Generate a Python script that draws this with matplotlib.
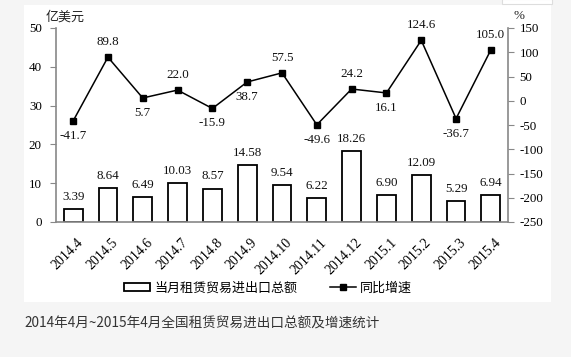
import matplotlib
matplotlib.use('Agg')
import matplotlib.pyplot as plt
from matplotlib.patches import Rectangle
from matplotlib.lines import Line2D
from matplotlib.transforms import ScaledTranslation

months = ['2014.4', '2014.5', '2014.6', '2014.7', '2014.8', '2014.9', '2014.10',
          '2014.11', '2014.12', '2015.1', '2015.2', '2015.3', '2015.4']
amount = [3.39, 8.64, 6.49, 10.03, 8.57, 14.58, 9.54, 6.22, 18.26, 6.90, 12.09, 5.29, 6.94]
growth = [-41.7, 89.8, 5.7, 22.0, -15.9, 38.7, 57.5, -49.6, 24.2, 16.1, 124.6, -36.7, 105.0]
growth_label_side = ['below', 'above', 'below', 'above', 'below', 'below', 'above',
                     'below', 'above', 'below', 'above', 'below', 'above']
left_ticks = [0, 10, 20, 30, 40, 50]
right_ticks = [-250, -200, -150, -100, -50, 0, 50, 100, 150]

SERIF = ['Liberation Serif', 'DejaVu Serif']
CJK = ['Noto Sans CJK SC', 'DejaVu Sans']
plt.rcParams['font.family'] = SERIF

fig = plt.figure(figsize=(5.71, 3.57), dpi=100, facecolor='#f5f5f5')
W, H = 571, 357
# white panel
fig.patches.append(Rectangle((24 / W, (H - 302) / H), (551 - 24) / W, (302 - 5) / H,
                             transform=fig.transFigure, facecolor='white', edgecolor='none', zorder=-10))
fig.patches.append(Rectangle((502 / W, (H - 3.5) / H), 50 / W, 5 / H,
                             transform=fig.transFigure, facecolor='white', edgecolor='#dddddd',
                             linewidth=0.8, zorder=-10))

NUM = 9.4
ax = fig.add_axes([55.7 / W, (H - 222) / H, (508.3 - 55.7) / W, (222 - 28) / H])
ax.set_facecolor('none')
x = list(range(len(months)))
ax.bar(x, amount, width=0.54, facecolor='white', edgecolor='black', linewidth=1.3, zorder=2)
ax.set_xlim(-0.5, len(months) - 0.5)
ax.set_ylim(0, 50)
ax.set_yticks(left_ticks)
ax.set_yticklabels([str(t) for t in left_ticks], fontsize=NUM)
for xi, v in zip(x, amount):
    ax.annotate(f'{v:.2f}', (xi, v), xytext=(0, 4.5), textcoords='offset points',
                ha='center', va='bottom', fontsize=NUM, color='#111111')
ax.set_xticks(x)
ax.set_xticklabels(months, rotation=45, ha='right', va='top', rotation_mode='anchor', fontsize=10)
ax.tick_params(axis='x', length=0, pad=10)
shift = ScaledTranslation(3.5 / 100, 0, fig.dpi_scale_trans)
for lab in ax.get_xticklabels():
    lab.set_transform(lab.get_transform() + shift)
ax.tick_params(axis='y', length=4, color='#888888', pad=6, direction='out')
for s in ['top', 'right']:
    ax.spines[s].set_visible(False)
for s in ['left', 'bottom']:
    ax.spines[s].set_color('#888888')
    ax.spines[s].set_linewidth(1.2)

ax2 = ax.twinx()
ax2.plot(x, growth, color='black', linewidth=1.1, marker='s', markersize=5, zorder=3)
ax2.set_ylim(-250, 150)
ax2.set_yticks(right_ticks)
ax2.set_yticklabels([str(t) for t in right_ticks], fontsize=NUM)
ax2.tick_params(axis='y', length=4, color='#888888', pad=4, direction='out')
for s in ['top', 'left', 'bottom']:
    ax2.spines[s].set_visible(False)
ax2.spines['right'].set_color('#888888')
ax2.spines['right'].set_linewidth(1.2)
for xi, v, side in zip(x, growth, growth_label_side):
    off = 6.5 if side == 'above' else -6.5
    ax2.annotate(f'{v:.1f}', (xi, v), xytext=(0, off), textcoords='offset points',
                 ha='center', va='bottom' if side == 'above' else 'top',
                 fontsize=NUM, color='#111111')

fig.text(65 / W, (H - 17) / H, '亿美元', family=CJK, fontsize=9.4, ha='center', va='center', color='#222222')
fig.text(519 / W, (H - 16) / H, '%', family=SERIF, fontsize=NUM, ha='center', va='center', color='#222222')

handles = [Rectangle((0, 0), 1, 1, facecolor='white', edgecolor='black', linewidth=1.3),
           Line2D([0], [0], color='black', linewidth=1.1, marker='s', markersize=4)]
leg = fig.legend(handles, ['当月租赁贸易进出口总额', '同比增速'], loc='center',
                 bbox_to_anchor=(268 / W, (H - 288) / H), ncol=2, frameon=False,
                 prop={'family': CJK, 'size': 9.4}, handlelength=2.0, handleheight=0.6,
                 columnspacing=2.5, handletextpad=0.3)

fig.text(24 / W, (H - 324) / H, '2014年4月~2015年4月全国租赁贸易进出口总额及增速统计',
         family=CJK, fontsize=9.8, ha='left', va='center', color='#333333')

fig.savefig('out.png', dpi=100, facecolor=fig.get_facecolor())
